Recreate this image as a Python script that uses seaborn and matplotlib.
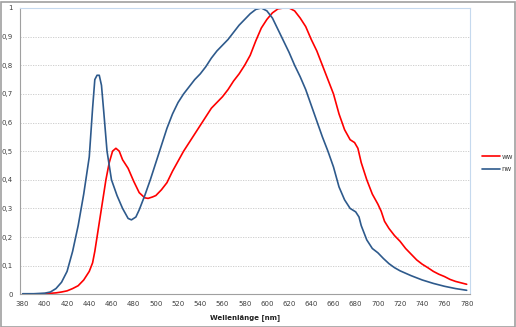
import matplotlib
matplotlib.use("Agg")
import matplotlib.pyplot as plt
import seaborn as sns
import pandas as pd
from matplotlib.patches import Rectangle
from matplotlib.lines import Line2D
from matplotlib.ticker import MultipleLocator, FixedLocator

nw_nm = [380, 390, 400, 405, 410, 415, 420, 425, 430, 435, 440, 443, 445, 447, 449, 451, 453, 456,
         460, 465, 470, 475, 478, 482, 485, 490, 495, 500, 505, 510, 515, 520, 525, 530, 535, 540,
         545, 550, 555, 560, 565, 570, 575, 580, 585, 590, 595, 600, 605, 610, 615, 620, 625, 630,
         635, 640, 645, 650, 655, 660, 665, 670, 675, 680, 683, 685, 690, 695, 700, 705, 710, 715,
         720, 730, 740, 750, 760, 770, 780]
nw_val = [0.002, 0.002, 0.004, 0.008, 0.02, 0.042, 0.08, 0.15, 0.24, 0.35, 0.48, 0.65, 0.75, 0.765,
          0.765, 0.73, 0.64, 0.50, 0.40, 0.345, 0.30, 0.265, 0.26, 0.27, 0.295, 0.345, 0.40, 0.46,
          0.52, 0.58, 0.63, 0.67, 0.70, 0.725, 0.75, 0.77, 0.795, 0.825, 0.85, 0.87, 0.89, 0.915,
          0.94, 0.96, 0.98, 0.995, 1.0, 0.99, 0.965, 0.925, 0.885, 0.845, 0.80, 0.76, 0.715, 0.66,
          0.605, 0.55, 0.50, 0.445, 0.375, 0.33, 0.30, 0.288, 0.27, 0.24, 0.19, 0.16, 0.145, 0.125,
          0.107, 0.093, 0.082, 0.065, 0.05, 0.038, 0.028, 0.02, 0.014]

ww_nm = [380, 390, 400, 410, 415, 420, 425, 430, 435, 440, 443, 445, 447, 449, 451, 453, 455, 458,
         461, 464, 467, 470, 475, 480, 485, 490, 493, 497, 500, 505, 510, 515, 520, 525, 530, 535,
         540, 545, 550, 555, 560, 565, 570, 575, 580, 585, 590, 595, 600, 605, 610, 615, 620, 625,
         630, 635, 640, 645, 650, 655, 660, 665, 670, 675, 679, 682, 685, 690, 695, 700, 703, 706,
         710, 715, 720, 725, 730, 735, 740, 745, 750, 755, 760, 765, 770, 775, 780]
ww_val = [0.001, 0.001, 0.002, 0.005, 0.008, 0.012, 0.02, 0.03, 0.05, 0.08, 0.11, 0.15, 0.2, 0.25,
          0.3, 0.35, 0.4, 0.46, 0.5, 0.51, 0.5, 0.47, 0.44, 0.395, 0.355, 0.337, 0.335, 0.34, 0.345,
          0.365, 0.39, 0.43, 0.465, 0.50, 0.53, 0.56, 0.59, 0.62, 0.65, 0.67, 0.69, 0.715, 0.745,
          0.77, 0.80, 0.835, 0.885, 0.93, 0.96, 0.983, 0.997, 1.0, 1.0, 0.99, 0.965, 0.935, 0.89,
          0.85, 0.80, 0.75, 0.70, 0.63, 0.575, 0.54, 0.53, 0.51, 0.46, 0.40, 0.35, 0.315, 0.29,
          0.255, 0.23, 0.205, 0.185, 0.16, 0.14, 0.12, 0.105, 0.093, 0.08, 0.07, 0.062, 0.052,
          0.045, 0.04, 0.035]

series_names = ["ww", "nw"]
x_ticks = list(range(380, 781, 20))
y_ticks = [i / 10 for i in range(11)]
y_labels = ["0", "0,1", "0,2", "0,3", "0,4", "0,5", "0,6", "0,7", "0,8", "0,9", "1"]

df = pd.concat([
    pd.DataFrame({"nm": ww_nm, "val": ww_val, "serie": series_names[0]}),
    pd.DataFrame({"nm": nw_nm, "val": nw_val, "serie": series_names[1]}),
])

sns.set_style("white")
plt.rcParams["font.family"] = ["DejaVu Sans"]

RED, BLUE = "#FF0000", "#2E5A8C"
W, H = 516, 327
fig = plt.figure(figsize=(W / 100, H / 100), dpi=100)
ax = fig.add_axes([20 / W, (H - 294.3) / H, 450 / W, 286.3 / H])

sns.lineplot(data=df, x="nm", y="val", hue="serie", sort=False,
             palette={"ww": RED, "nw": BLUE}, linewidth=1.2, ax=ax, legend=False)

ax.set_xlim(377.6, 783)
ax.set_ylim(0, 1)
ax.xaxis.set_major_locator(FixedLocator(x_ticks))
ax.xaxis.set_minor_locator(MultipleLocator(10))
ax.set_xticklabels([str(t) for t in x_ticks])
ax.set_yticks(y_ticks)
ax.set_yticklabels(y_labels)
ax.tick_params(axis="both", which="both", labelsize=5, length=3, width=0.6,
               direction="out", pad=2, colors="#a0a0a0", labelcolor="#404040")
for y in y_ticks[1:-1]:
    ax.axhline(y, color="#c8c8c8", linestyle=(0, (1.5, 1.5)), linewidth=0.6, zorder=0)

ax.spines["left"].set_color("#a0a0a0")
ax.spines["bottom"].set_color("#a0a0a0")
ax.spines["top"].set_color("#c5d9ee")
ax.spines["right"].set_color("#c5d9ee")
for s in ax.spines.values():
    s.set_linewidth(0.8)

ax.set_ylabel("")
ax.set_xlabel("Wellenlänge [nm]", fontsize=5, fontweight="bold", color="#202020", labelpad=5)

handles = [Line2D([0], [0], color=RED, lw=1.2), Line2D([0], [0], color=BLUE, lw=1.2)]
fig.legend(handles, series_names, loc="center left", bbox_to_anchor=(482 / W, (H - 163) / H),
           frameon=False, fontsize=5, handlelength=2.6, handletextpad=0.2, labelspacing=1.0,
           labelcolor="#404040", borderaxespad=0, borderpad=0)

fig.add_artist(Rectangle((0.5 / W, 0.5 / H), (W - 1.5) / W, (H - 2) / H, transform=fig.transFigure,
                         fill=False, edgecolor="#a0a0a0", linewidth=1.2))

fig.savefig("out.png", dpi=100)
